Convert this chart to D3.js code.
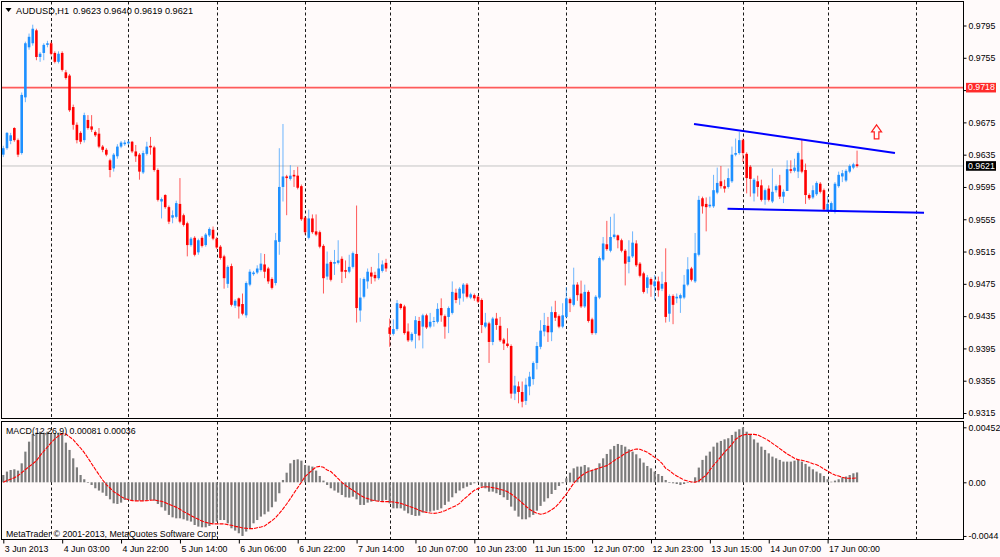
<!DOCTYPE html>
<html>
<head>
<meta charset="utf-8">
<script src="https://d3js.org/d3.v7.min.js"></script>
<style>
  html, body { margin: 0; padding: 0; background: #fffafa; }
  svg { display: block; font-family: 'Liberation Sans', Arial, sans-serif; }
</style>
</head>
<body>
<div id="chart"></div>
<script>
// ---- data (AUDUSD H1, bar 0 = 3 Jun 11:00) ----
const symbolName = 'AUDUSD,H1';
const lastQuote = '0.9623 0.9640 0.9619 0.9621';
const macdCaption = 'MACD(12,26,9) 0.00081 0.00036';
const copyright = 'MetaTrader \u00a9 2001-2013, MetaQuotes Software Corp.';

const opens = [
  .9635,.9643,.9652,.9668,.9653,.9637,.9706,.9768,.9773,.9789,
  .9756,.9761,.9771,.9773,.9761,.9750,.9761,.9737,.9733,.9694,
  .9672,.9662,.9653,.9678,.9670,.9663,.9661,.9645,.9641,.9628,
  .9618,.9633,.9645,.9648,.9649,.9651,.9639,.9635,.9613,.9636,
  .9646,.9644,.9616,.9577,.9585,.9570,.9557,.9558,.9574,.9560,
  .9550,.9523,.9532,.9514,.9532,.9523,.9535,.9542,.9531,.9521,
  .9509,.9475,.9497,.9448,.9457,.9450,.9436,.9474,.9487,.9489,
  .9492,.9499,.9494,.9481,.9476,.9527,.9595,.9608,.9605,.9610,
  .9609,.9596,.9557,.9532,.9556,.9540,.9539,.9522,.9484,.9502,
  .9500,.9501,.9506,.9492,.9490,.9496,.9512,.9442,.9459,.9478,
  .9489,.9486,.9482,.9491,.9501,.9421,.9413,.9419,.9450,.9447,
  .9416,.9405,.9413,.9429,.9422,.9436,.9422,.9428,.9428,.9445,
  .9435,.9434,.9439,.9464,.9457,.9463,.9474,.9458,.9461,.9459,
  .9455,.9422,.9426,.9403,.9432,.9423,.9406,.9401,.9398,.9339,
  .9348,.9341,.9330,.9348,.9357,.9377,.9397,.9416,.9423,.9415,
  .9440,.9435,.9422,.9434,.9456,.9449,.9474,.9463,.9447,.9465,
  .9431,.9414,.9458,.9505,.9524,.9516,.9533,.9535,.9529,.9516,
  .9502,.9509,.9525,.9500,.9488,.9470,.9481,.9472,.9478,.9469,
  .9477,.9438,.9460,.9457,.9457,.9458,.9474,.9494,.9478,.9511,
  .9581,.9574,.9571,.9571,.9588,.9602,.9596,.9595,.9602,.9635,
  .9637,.9653,.9636,.9620,.9587,.9602,.9597,.9579,.9593,.9577,
  .9591,.9597,.9583,.9590,.9617,.9615,.9614,.9629,.9616,.9585,
  .9582,.9586,.9599,.9591,.9566,.9566,.9564,.9596,.9608,.9603,
  .9614,.9619,.9623
];
const highs = [
  .9646,.9663,.9662,.9669,.9655,.9712,.9775,.9785,.9796,.9791,
  .9762,.9773,.9776,.9775,.9763,.9763,.9763,.9740,.9735,.9697,
  .9675,.9664,.9687,.9684,.9684,.9665,.9668,.9647,.9643,.9630,
  .9637,.9648,.9652,.9653,.9653,.9652,.9647,.9637,.9640,.9651,
  .9657,.9646,.9618,.9582,.9586,.9572,.9566,.9578,.9606,.9562,
  .9552,.9533,.9534,.9531,.9534,.9538,.9545,.9546,.9533,.9523,
  .9511,.9498,.9500,.9456,.9458,.9463,.9478,.9493,.9491,.9498,
  .9513,.9512,.9496,.9483,.9538,.9643,.9673,.9610,.9622,.9616,
  .9620,.9598,.9559,.9567,.9561,.9561,.9541,.9524,.9515,.9504,
  .9517,.9529,.9509,.9504,.9511,.9515,.9572,.9482,.9483,.9494,
  .9496,.9490,.9513,.9504,.9506,.9432,.9431,.9455,.9451,.9449,
  .9426,.9415,.9435,.9434,.9438,.9438,.9439,.9434,.9451,.9457,
  .9437,.9447,.9478,.9469,.9471,.9476,.9476,.9464,.9463,.9461,
  .9457,.9439,.9428,.9434,.9439,.9434,.9408,.9420,.9400,.9361,
  .9354,.9354,.9358,.9366,.9379,.9403,.9430,.9439,.9434,.9447,
  .9454,.9437,.9451,.9471,.9458,.9495,.9477,.9479,.9474,.9467,
  .9433,.9461,.9509,.9533,.9553,.9558,.9562,.9536,.9531,.9518,
  .9529,.9540,.9529,.9502,.9490,.9486,.9483,.9486,.9484,.9490,
  .9519,.9462,.9462,.9463,.9463,.9486,.9508,.9496,.9538,.9584,
  .9583,.9582,.9583,.9610,.9619,.9621,.9604,.9618,.9645,.9655,
  .9663,.9655,.9638,.9622,.9606,.9609,.9604,.9593,.9597,.9618,
  .9598,.9610,.9592,.9628,.9628,.9630,.9639,.9654,.9624,.9587,
  .9597,.9602,.9601,.9593,.9584,.9577,.9601,.9614,.9616,.9617,
  .9623,.9625,.9640
];
const lows = [
  .9632,.9641,.9648,.9651,.9632,.9635,.9700,.9765,.9770,.9752,
  .9750,.9752,.9768,.9758,.9748,.9748,.9738,.9728,.9688,.9666,
  .9649,.9648,.9650,.9666,.9663,.9657,.9643,.9638,.9633,.9607,
  .9614,.9630,.9643,.9646,.9647,.9637,.9626,.9604,.9611,.9634,
  .9635,.9614,.9577,.9556,.9568,.9549,.9550,.9556,.9550,.9546,
  .9509,.9521,.9509,.9511,.9520,.9521,.9533,.9529,.9518,.9505,
  .9469,.9470,.9447,.9445,.9432,.9436,.9433,.9472,.9485,.9487,
  .9490,.9482,.9475,.9468,.9473,.9511,.9577,.9560,.9603,.9595,
  .9592,.9553,.9536,.9530,.9537,.9534,.9519,.9463,.9480,.9478,
  .9486,.9499,.9476,.9482,.9488,.9494,.9427,.9428,.9457,.9469,
  .9475,.9478,.9480,.9489,.9490,.9397,.9411,.9417,.9443,.9412,
  .9403,.9403,.9395,.9405,.9395,.9419,.9420,.9422,.9426,.9428,
  .9407,.9414,.9437,.9451,.9449,.9453,.9457,.9456,.9454,.9451,
  .9414,.9420,.9377,.9399,.9418,.9403,.9393,.9396,.9333,.9331,
  .9327,.9322,.9325,.9337,.9350,.9369,.9394,.9410,.9403,.9404,
  .9429,.9420,.9420,.9432,.9440,.9447,.9454,.9445,.9445,.9427,
  .9412,.9412,.9456,.9503,.9516,.9514,.9531,.9519,.9514,.9473,
  .9488,.9507,.9496,.9483,.9463,.9463,.9459,.9455,.9459,.9466,
  .9427,.9428,.9425,.9451,.9439,.9456,.9472,.9478,.9476,.9509,
  .9562,.9540,.9569,.9569,.9586,.9593,.9588,.9593,.9600,.9633,
  .9635,.9626,.9587,.9583,.9577,.9583,.9577,.9573,.9577,.9575,
  .9588,.9580,.9575,.9590,.9612,.9613,.9606,.9612,.9574,.9579,
  .9580,.9584,.9587,.9565,.9564,.9564,.9562,.9594,.9601,.9601,
  .9612,.9617,.9619
];
const closes = [
  .9643,.9662,.9659,.9653,.9635,.9709,.9773,.9781,.9791,.9756,
  .9760,.9771,.9773,.9760,.9750,.9760,.9740,.9730,.9690,.9672,
  .9653,.9651,.9684,.9668,.9666,.9659,.9645,.9641,.9635,.9616,
  .9635,.9645,.9650,.9650,.9651,.9639,.9633,.9614,.9637,.9645,
  .9644,.9616,.9579,.9580,.9570,.9552,.9560,.9575,.9552,.9548,
  .9523,.9531,.9511,.9529,.9522,.9536,.9543,.9531,.9520,.9507,
  .9482,.9496,.9449,.9454,.9447,.9438,.9476,.9490,.9489,.9494,
  .9500,.9490,.9478,.9470,.9529,.9595,.9608,.9606,.9609,.9608,
  .9594,.9555,.9539,.9556,.9539,.9536,.9521,.9482,.9500,.9480,
  .9502,.9504,.9490,.9490,.9496,.9513,.9445,.9458,.9481,.9490,
  .9484,.9482,.9494,.9499,.9494,.9413,.9419,.9451,.9445,.9414,
  .9405,.9413,.9430,.9411,.9436,.9421,.9428,.9429,.9444,.9436,
  .9422,.9445,.9465,.9455,.9469,.9474,.9459,.9462,.9457,.9453,
  .9424,.9427,.9403,.9432,.9424,.9405,.9401,.9398,.9339,.9349,
  .9341,.9329,.9350,.9360,.9377,.9398,.9417,.9424,.9415,.9440,
  .9433,.9422,.9436,.9457,.9451,.9474,.9461,.9447,.9465,.9429,
  .9414,.9459,.9507,.9525,.9518,.9533,.9536,.9529,.9516,.9500,
  .9509,.9526,.9498,.9485,.9465,.9483,.9474,.9478,.9467,.9475,
  .9434,.9460,.9449,.9459,.9461,.9474,.9493,.9480,.9513,.9579,
  .9571,.9570,.9573,.9591,.9600,.9596,.9593,.9606,.9635,.9637,
  .9653,.9637,.9606,.9605,.9604,.9595,.9579,.9591,.9579,.9589,
  .9596,.9583,.9589,.9617,.9615,.9619,.9637,.9614,.9585,.9581,
  .9591,.9600,.9589,.9567,.9574,.9575,.9599,.9610,.9612,.9615,
  .9621,.9623,.9621
];

// MACD main (histogram) and signal (dotted red)
const macdMain = [
  .00060,.00088,.00101,.00107,.00096,.00156,.00252,.00334,.00397,.00408,
  .00416,.00408,.00416,.00397,.00403,.00408,.00403,.00326,.00266,.00197,
  .00123,.00060,.00025,-.00002,-.00022,-.00049,-.00068,-.00085,-.00112,-.00140,
  -.00173,-.00178,-.00167,-.00145,-.00145,-.00151,-.00151,-.00151,-.00151,-.00145,
  -.00145,-.00151,-.00178,-.00205,-.00233,-.00268,-.00288,-.00296,-.00296,-.00304,
  -.00315,-.00323,-.00351,-.00364,-.00370,-.00370,-.00359,-.00337,-.00323,-.00310,
  -.00310,-.00337,-.00378,-.00397,-.00419,-.00441,-.00405,-.00378,-.00337,-.00310,
  -.00282,-.00263,-.00241,-.00205,-.00159,-.00090,.00019,.00079,.00156,.00184,
  .00189,.00178,.00142,.00137,.00129,.00096,.00052,.00014,-.00022,-.00049,
  -.00068,-.00085,-.00104,-.00123,-.00126,-.00118,-.00140,-.00186,-.00186,-.00167,
  -.00159,-.00153,-.00153,-.00153,-.00145,-.00173,-.00214,-.00214,-.00214,-.00233,
  -.00255,-.00268,-.00277,-.00274,-.00249,-.00241,-.00241,-.00233,-.00227,-.00214,
  -.00186,-.00159,-.00123,-.00090,-.00068,-.00049,-.00036,-.00022,-.00008,.00005,
  -.00036,-.00049,-.00077,-.00077,-.00090,-.00104,-.00123,-.00145,-.00200,-.00233,
  -.00282,-.00304,-.00304,-.00288,-.00268,-.00233,-.00194,-.00159,-.00131,-.00096,
  -.00063,-.00030,-.00008,.00033,.00079,.00115,.00129,.00129,.00142,.00123,
  .00101,.00115,.00156,.00197,.00233,.00271,.00299,.00315,.00307,.00293,
  .00271,.00252,.00230,.00197,.00162,.00134,.00115,.00088,.00068,.00052,
  .00019,.00000,-.00008,-.00014,-.00022,-.00014,-.00002,.00005,.00041,.00121,
  .00184,.00219,.00252,.00293,.00326,.00340,.00353,.00362,.00389,.00416,
  .00436,.00452,.00416,.00389,.00353,.00326,.00293,.00266,.00238,.00211,
  .00197,.00184,.00170,.00170,.00170,.00178,.00184,.00170,.00151,.00129,
  .00107,.00088,.00074,.00052,.00025,.00005,.00014,.00025,.00041,.00047,
  .00060,.00074,.00081
];
const macdSignal = [
  .00000,.00014,.00025,.00038,.00055,.00079,.00104,.00129,.00151,.00178,
  .00219,.00255,.00290,.00326,.00356,.00381,.00400,.00397,.00373,.00351,
  .00315,.00282,.00244,.00200,.00153,.00107,.00063,.00019,-.00019,-.00047,
  -.00077,-.00096,-.00118,-.00134,-.00142,-.00151,-.00153,-.00153,-.00153,-.00151,
  -.00148,-.00145,-.00151,-.00156,-.00167,-.00181,-.00192,-.00205,-.00222,-.00241,
  -.00257,-.00274,-.00290,-.00304,-.00318,-.00329,-.00337,-.00342,-.00342,-.00342,
  -.00342,-.00348,-.00353,-.00362,-.00367,-.00375,-.00378,-.00381,-.00381,-.00373,
  -.00367,-.00359,-.00337,-.00315,-.00290,-.00255,-.00219,-.00178,-.00134,-.00088,
  -.00044,.00000,.00047,.00074,.00101,.00126,.00131,.00123,.00101,.00088,
  .00060,.00030,.00000,-.00025,-.00047,-.00066,-.00085,-.00107,-.00123,-.00134,
  -.00145,-.00151,-.00156,-.00159,-.00159,-.00159,-.00162,-.00167,-.00173,-.00184,
  -.00194,-.00205,-.00216,-.00230,-.00241,-.00247,-.00252,-.00255,-.00252,-.00244,
  -.00233,-.00219,-.00205,-.00192,-.00173,-.00142,-.00118,-.00090,-.00066,-.00052,
  -.00041,-.00036,-.00038,-.00044,-.00049,-.00058,-.00066,-.00077,-.00096,-.00118,
  -.00142,-.00170,-.00197,-.00222,-.00241,-.00255,-.00263,-.00257,-.00244,-.00225,
  -.00205,-.00173,-.00134,-.00096,-.00052,-.00008,.00025,.00052,.00074,.00088,
  .00099,.00107,.00118,.00129,.00137,.00156,.00178,.00197,.00216,.00238,
  .00252,.00266,.00274,.00271,.00260,.00247,.00227,.00205,.00184,.00156,
  .00115,.00096,.00071,.00052,.00036,.00019,.00011,.00003,.00000,.00011,
  .00036,.00058,.00101,.00140,.00173,.00211,.00247,.00279,.00312,.00353,
  .00375,.00389,.00394,.00394,.00394,.00389,.00375,.00359,.00342,.00320,
  .00299,.00277,.00255,.00233,.00216,.00197,.00186,.00181,.00173,.00164,
  .00153,.00145,.00129,.00110,.00093,.00074,.00060,.00052,.00041,.00033,
  .00033,.00033,.00036
];

const timeLabels = ['3 Jun 2013','4 Jun 03:00','4 Jun 22:00','5 Jun 14:00','6 Jun 06:00',
  '6 Jun 22:00','7 Jun 14:00','10 Jun 07:00','10 Jun 23:00','11 Jun 15:00','12 Jun 07:00',
  '12 Jun 23:00','13 Jun 15:00','14 Jun 07:00','17 Jun 00:00'];
const timeLabelBars = [0,16,32,48,64,80,96,112,128,144,160,176,192,208,224];
const dayStartBars = [13,34,58,82,105,129,153,177,201,224,248];

// 0.9715 sits under the red 0.9718 marker, so only its tick is drawn
const priceTicks = [0.9795,0.9755,0.9675,0.9635,0.9595,0.9555,0.9515,0.9475,0.9435,0.9395,0.9355,0.9315];
const hiddenPriceTicks = [0.9715];
const macdTicks = [0.00452, 0, -0.00441];
const macdTickLabels = ['0.00452', '0.00', '-0.0044'];

const hLinePrice = 0.9718;
const bidPrice = 0.9621;
// trend lines: [bar, price] end points
const trendUpper = [[187.7, 0.9673], [242.3, 0.9637]];
const trendLower = [[196.8, 0.9568], [250.2, 0.9563]];
const arrowMark = [237.3, 0.9672];

// ---- layout ----
const W = 1000, H = 557;
const paneL = 1.5, paneR = 963.5;
const mainTop = 1.5, mainBottom = 418.5;
const macdTop = 421.5, macdBottom = 539.5;
const bullColor = '#1e90ff', bearColor = '#ff0000';
const fontFam = "'Liberation Sans', Arial, sans-serif";

const svg = d3.select('#chart').append('svg').attr('width', W).attr('height', H);
svg.append('rect').attr('width', W).attr('height', H).attr('fill', '#fffafa');

const defs = svg.append('defs');
defs.append('clipPath').attr('id', 'clipMain').append('rect')
  .attr('x', paneL).attr('y', mainTop).attr('width', paneR - paneL).attr('height', mainBottom - mainTop);
defs.append('clipPath').attr('id', 'clipMacd').append('rect')
  .attr('x', paneL).attr('y', macdTop).attr('width', paneR - paneL).attr('height', macdBottom - macdTop);

const x = d3.scaleLinear().domain([0, 232]).range([3.3, 857.06]);
const y = d3.scaleLinear().domain([0.9315, 0.9795]).range([413, 25.5]);
const ym = d3.scaleLinear().domain([-0.00441, 0.00452]).range([535.96, 427.3]);
const idx = d3.range(closes.length);
const isBull = i => closes[i] >= opens[i];

// vertical dashed grid at day starts
const grid = svg.append('g');
[[mainTop, mainBottom], [macdTop, macdBottom]].forEach(([t, b]) => {
  grid.selectAll(null).data(dayStartBars).join('line')
    .attr('x1', d => Math.round(x(d)) + 0.5).attr('x2', d => Math.round(x(d)) + 0.5)
    .attr('y1', t).attr('y2', b)
    .attr('stroke', '#1a1a1a').attr('stroke-width', 1).attr('stroke-dasharray', '3,2.5');
});

// main pane
const main = svg.append('g').attr('clip-path', 'url(#clipMain)');

main.append('line')
  .attr('x1', paneL).attr('x2', paneR).attr('y1', y(hLinePrice)).attr('y2', y(hLinePrice))
  .attr('stroke', '#ff5a5a').attr('stroke-width', 1.8);
main.append('line')
  .attr('x1', paneL).attr('x2', paneR).attr('y1', y(bidPrice)).attr('y2', y(bidPrice))
  .attr('stroke', '#c4c4c4').attr('stroke-width', 1);

main.selectAll('line.wick').data(idx).join('line').attr('class', 'wick')
  .attr('x1', i => x(i)).attr('x2', i => x(i))
  .attr('y1', i => y(highs[i])).attr('y2', i => y(lows[i]))
  .attr('stroke', i => isBull(i) ? bullColor : bearColor)
  .attr('stroke-opacity', 0.65).attr('stroke-width', 1);

main.selectAll('rect.body').data(idx).join('rect').attr('class', 'body')
  .attr('x', i => x(i) - 1.3).attr('width', 2.6)
  .attr('y', i => y(Math.max(opens[i], closes[i])))
  .attr('height', i => Math.max(1, Math.abs(y(opens[i]) - y(closes[i]))))
  .attr('fill', i => isBull(i) ? bullColor : bearColor);

[trendUpper, trendLower].forEach(t => {
  main.append('line')
    .attr('x1', x(t[0][0])).attr('y1', y(t[0][1]))
    .attr('x2', x(t[1][0])).attr('y2', y(t[1][1]))
    .attr('stroke', '#0000ff').attr('stroke-width', 2);
});

{
  const cx = x(arrowMark[0]), ty = y(arrowMark[1]);
  const p = d3.path();
  p.moveTo(cx, ty); p.lineTo(cx + 5, ty + 7); p.lineTo(cx + 2.3, ty + 7);
  p.lineTo(cx + 2.3, ty + 14); p.lineTo(cx - 2.3, ty + 14); p.lineTo(cx - 2.3, ty + 7);
  p.lineTo(cx - 5, ty + 7); p.closePath();
  main.append('path').attr('d', p.toString())
    .attr('fill', '#fffafa').attr('stroke', '#ff2020').attr('stroke-width', 1.2);
}

// title
{
  const tri = d3.path();
  tri.moveTo(5.5, 8); tri.lineTo(11.5, 8); tri.lineTo(8.5, 12); tri.closePath();
  svg.append('path').attr('d', tri.toString()).attr('fill', '#000');
  svg.append('text').attr('x', 16).attr('y', 13.5).attr('font-size', 9.2).attr('font-family', fontFam)
    .text(symbolName);
  svg.append('text').attr('x', 73).attr('y', 13.5).attr('font-size', 9.2).attr('font-family', fontFam)
    .text(lastQuote);
}

// MACD pane
const macdG = svg.append('g').attr('clip-path', 'url(#clipMacd)');
macdG.selectAll('rect').data(idx).join('rect')
  .attr('x', i => x(i) - 1.1).attr('width', 2.2)
  .attr('y', i => Math.min(ym(0), ym(macdMain[i])))
  .attr('height', i => Math.max(0.6, Math.abs(ym(macdMain[i]) - ym(0))))
  .attr('fill', '#7c7c7c');
macdG.append('path')
  .attr('d', d3.line().x((d, i) => x(i)).y(d => ym(d))(macdSignal))
  .attr('fill', 'none').attr('stroke', '#ff0000').attr('stroke-width', 1.1)
  .attr('stroke-dasharray', '4,1');

svg.append('text').attr('x', 6).attr('y', 433.5).attr('font-size', 8.8).attr('font-family', fontFam)
  .text(macdCaption);
svg.append('text').attr('x', 6).attr('y', 537).attr('font-size', 8.8).attr('font-family', fontFam)
  .text(copyright);

// pane frames
svg.append('rect').attr('x', paneL).attr('y', mainTop).attr('width', paneR - paneL)
  .attr('height', mainBottom - mainTop).attr('fill', 'none').attr('stroke', '#000');
svg.append('rect').attr('x', paneL).attr('y', macdTop).attr('width', paneR - paneL)
  .attr('height', macdBottom - macdTop).attr('fill', 'none').attr('stroke', '#000');

// axes
function styleAxis(g) {
  g.select('.domain').remove();
  g.attr('font-family', fontFam).attr('font-size', 8.8);
  g.selectAll('.tick line').attr('stroke', '#000');
  g.selectAll('.tick text').attr('fill', '#000');
}
svg.append('g').attr('transform', `translate(${paneR},0)`)
  .call(d3.axisRight(y).tickValues(priceTicks).tickSize(3).tickPadding(2).tickFormat(d3.format('.4f')))
  .call(styleAxis);
svg.append('g').attr('transform', `translate(${paneR},0)`)
  .call(d3.axisRight(y).tickValues(hiddenPriceTicks).tickSize(3).tickFormat(''))
  .call(styleAxis);
svg.append('g').attr('transform', `translate(${paneR},0)`)
  .call(d3.axisRight(ym).tickValues(macdTicks).tickSize(3).tickPadding(2)
    .tickFormat((d, i) => macdTickLabels[i]))
  .call(styleAxis);
svg.append('g').attr('transform', `translate(0,${macdBottom})`)
  .call(d3.axisBottom(x).tickValues(timeLabelBars).tickSize(4).tickPadding(2)
    .tickFormat((d, i) => timeLabels[i]))
  .call(styleAxis)
  .call(g => g.selectAll('.tick text').attr('text-anchor', 'start').attr('x', 1));

// price markers on the axis
function priceBox(price, bg, label) {
  const yy = y(price);
  svg.append('rect').attr('x', 966).attr('y', yy - 4.8).attr('width', 30).attr('height', 9.6).attr('fill', bg);
  svg.append('text').attr('x', 968).attr('y', yy).attr('dy', '0.32em')
    .attr('font-size', 8.8).attr('font-family', fontFam).attr('fill', '#fff').text(label);
}
priceBox(hLinePrice, '#ff2a2a', d3.format('.4f')(hLinePrice));
priceBox(bidPrice, '#000000', d3.format('.4f')(bidPrice));
</script>
</body>
</html>
